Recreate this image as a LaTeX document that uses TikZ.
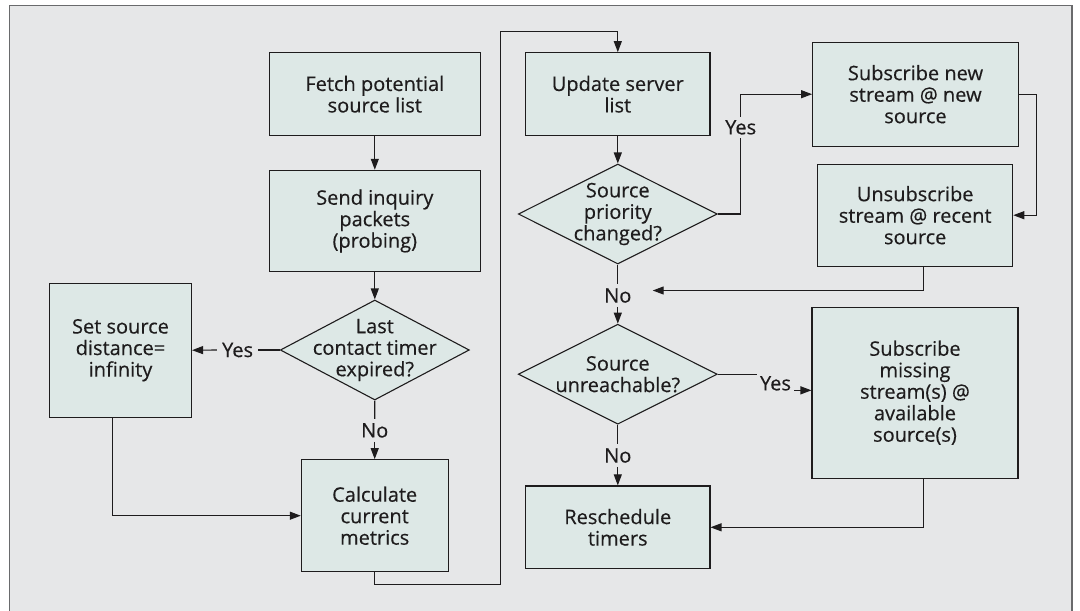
\documentclass[tikz,border=0pt]{standalone}
\usepackage{fontspec}
\setmainfont{Open Sans}
\newfontfamily\chartfont{Open Sans}[FakeBold=0.35]
\usetikzlibrary{shapes.geometric,arrows.meta}

\definecolor{panel}{RGB}{230,231,232}
\definecolor{boxfill}{RGB}{221,232,230}
\definecolor{ink}{RGB}{30,28,29}
\definecolor{framegray}{RGB}{105,106,108}

\begin{document}
\begin{tikzpicture}[x=1pt,y=-1pt,
  every node/.style={font=\chartfont\fontsize{20}{21.5}\selectfont, text=ink},
  proc/.style={draw=ink, fill=boxfill, line width=1.1pt, inner sep=0pt, align=center},
  decision/.style={draw=ink, fill=boxfill, line width=1.1pt, diamond, inner sep=0pt,
    minimum height=100pt},
  dtext/.style={align=center, inner sep=0pt},
  tag/.style={inner xsep=5pt, inner ysep=4pt},
  link/.style={draw=ink, line width=1.1pt},
  flow/.style={link, -{Triangle[length=11pt,width=8pt]}}
]
% canvas and panel
\useasboundingbox (0,0) rectangle (1080,611);
\fill[white] (0,0) rectangle (1080,611);
\draw[framegray, fill=panel, line width=1.2pt] (9.3,5.7) rectangle (1072,620);

% left column
\node[proc, minimum width=211pt, minimum height=83pt] (fetch) at (374.8,94.2)
  {Fetch potential\\source list};
\node[proc, minimum width=211pt, minimum height=101.4pt] (send) at (374.8,221)
  {Send inquiry\\packets\\(probing)};
\node[decision, minimum width=189pt] (d1) at (374.8,350) {};
\node[dtext] (d1t) at (d1.center) {Last\\contact timer\\expired?};
\node[proc, minimum width=142pt, minimum height=134.3pt] (setsrc) at (120.5,350.2)
  {Set source\\distance=\\infinity};
\node[proc, minimum width=146.7pt, minimum height=112pt] (calc) at (374.7,515.7)
  {Calculate\\current\\metrics};

% middle column
\node[proc, minimum width=184.3pt, minimum height=83pt] (update) at (617.8,94.2)
  {Update server\\list};
\node[decision, minimum width=199pt] (d2) at (617.8,214) {};
\node[dtext] (d2t) at (d2.center) {Source\\priority\\changed?};
\node[decision, minimum width=199pt] (d3) at (617.8,374.2) {};
\node[dtext] (d3t) at (d3.center) {Source\\unreachable?};
\node[proc, minimum width=184.3pt, minimum height=82.7pt] (resched) at (617.8,527.3)
  {Reschedule\\timers};

% right column
\node[proc, minimum width=205.7pt, minimum height=103.7pt] (subnew) at (915.5,94.2)
  {Subscribe new\\stream @ new\\source};
\node[proc, minimum width=195pt, minimum height=101.7pt] (unsub) at (915.2,215.2)
  {Unsubscribe\\stream @ recent\\source};
\node[proc, minimum width=206pt, minimum height=170.7pt] (submiss) at (915,392.7)
  {Subscribe\\missing\\stream(s) @\\available\\source(s)};

% branch labels
\node[tag] (yes1) at (237.6,350) {Yes};
\node[tag] (no1) at (374.7,430.4) {No};
\node[tag, inner ysep=3pt] (yes2) at (740.7,127.3) {Yes};
\node[tag] (no2) at (617.8,295.5) {No};
\node[tag, inner xsep=3pt] (yes3) at (775.5,383.3) {Yes};
\node[tag] (no3) at (617.8,455.5) {No};

% loose ends
\coordinate (loopup) at (500.3,31.7);
\coordinate (mergein) at (652.7,290.5);

% connectors, left column
\draw[flow] (fetch) -- (send);
\draw[flow] (send) -- (d1);
\draw[link] (d1.west) -- (yes1.east);
\draw[flow] (yes1.west) -- (setsrc.east);
\draw[link] (d1.south) -- (no1.north);
\draw[flow] (no1.south) -- (calc.north);
\draw[flow] ([xshift=-8.2pt]setsrc.south) |- (calc.west);
\draw[flow] (calc.south) -- ++(0,12.3) -| (loopup) -| (update.north);

% connectors, middle and right
\draw[flow] (update) -- (d2);
\draw[link] (d2.east) -| (yes2.south);
\draw[flow] (yes2.north) |- (subnew.west);
\draw[flow] (subnew.east) -- ++(17.7,0) |- (unsub.east);
\draw[flow] ([xshift=8.1pt]unsub.south) |- (mergein);
\draw[link] (d2.south) -- (no2.north);
\draw[flow] (no2.south) -- (d3.north);
\draw[link] (d3.east) -- (d3.east -| yes3.west);
\draw[flow] (yes3.base east) -- (submiss.west |- yes3.base east);
\draw[link] (d3.south) -- (no3.north);
\draw[flow] (no3.south) -- (resched.north);
\draw[flow] ([xshift=8.3pt]submiss.south) |- (resched.east);
\end{tikzpicture}
\end{document}
